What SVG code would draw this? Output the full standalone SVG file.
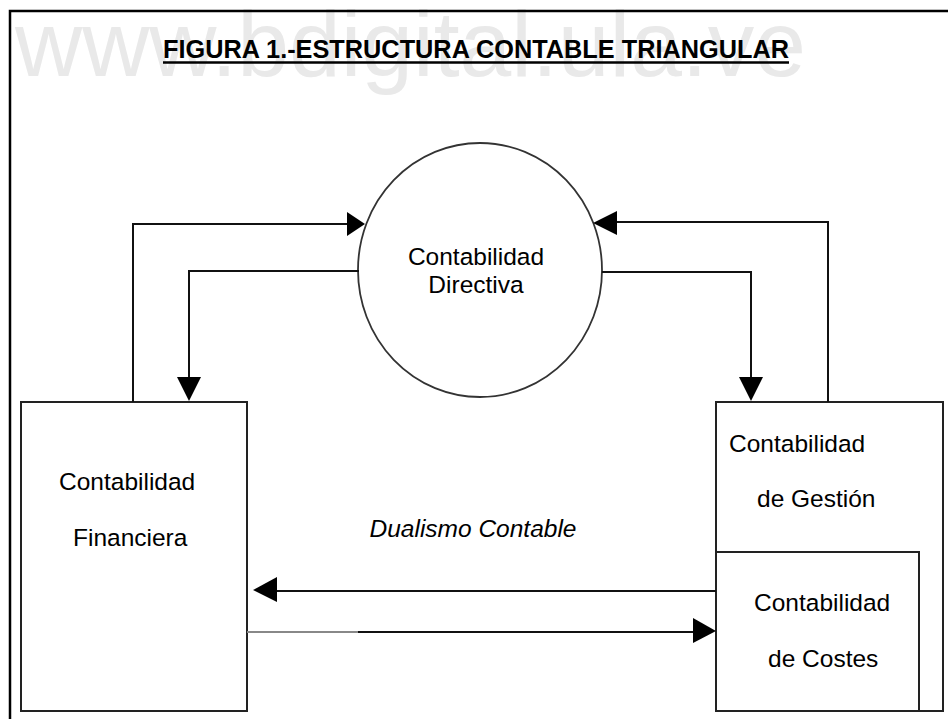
<svg xmlns="http://www.w3.org/2000/svg" width="948" height="719" viewBox="0 0 948 719">
<style>
.t{font-family:"Liberation Sans",Arial,sans-serif;font-size:24.5px;fill:#000}
.box{fill:none;stroke:#222;stroke-width:2}
.ln{fill:none;stroke:#111;stroke-width:2}
.ah{fill:#000}
</style>
<rect width="948" height="719" fill="#fff"/>
<text x="15" y="76" font-family="'Liberation Sans',Arial,sans-serif" font-size="93" fill="#e9e9e9">www.bdigital.ula.ve</text>
<g id="frame"><path d="M10,719 V11 H948" fill="none" stroke="#000" stroke-width="2.5"/></g>
<g id="title">
<text x="163" y="58" font-family="'Liberation Sans',Arial,sans-serif" font-size="25" font-weight="bold" textLength="626" lengthAdjust="spacingAndGlyphs">FIGURA 1.-ESTRUCTURA CONTABLE TRIANGULAR</text>
<line x1="163" y1="62.5" x2="789" y2="62.5" stroke="#000" stroke-width="2.5"/>
</g>
<g id="directiva">
<ellipse cx="480" cy="270" rx="122" ry="127" fill="#fff" stroke="#333" stroke-width="1.8"/>
<text class="t" x="476" y="265" text-anchor="middle">Contabilidad</text>
<text class="t" x="476" y="293" text-anchor="middle">Directiva</text>
</g>
<g id="financiera">
<rect class="box" x="21" y="402" width="226" height="309"/>
<text class="t" x="59" y="490">Contabilidad</text>
<text class="t" x="73" y="546">Financiera</text>
</g>
<g id="gestion">
<rect class="box" x="716" y="402" width="227" height="309"/>
<text class="t" x="729" y="452">Contabilidad</text>
<text class="t" x="757" y="507">de Gestión</text>
</g>
<g id="costes">
<rect class="box" x="716" y="552" width="203" height="159"/>
<text class="t" x="754" y="611">Contabilidad</text>
<text class="t" x="768" y="667">de Costes</text>
</g>
<g id="connectors">
<path class="ln" d="M133,402 V224 H348"/>
<polygon class="ah" points="365,224 347,212 347,236"/>
<path class="ln" d="M359,271 H189 V378"/>
<polygon class="ah" points="189,401 177,377 201,377"/>
<path class="ln" d="M828,402 V222 H616"/>
<polygon class="ah" points="593,223 617,211 617,235"/>
<path class="ln" d="M602,272 H751 V378"/>
<polygon class="ah" points="751,401 739,377 763,377"/>
<path class="ln" d="M716,591 H276"/>
<polygon class="ah" points="253,590 277,577 277,602"/>
<line x1="247" y1="632" x2="358" y2="632" stroke="#888" stroke-width="2"/>
<line x1="358" y1="632" x2="694" y2="632" stroke="#111" stroke-width="2"/>
<polygon class="ah" points="716,631 693,618 693,643"/>
</g>
<g id="label"><text class="t" x="473" y="537" text-anchor="middle" font-style="italic">Dualismo Contable</text></g>
</svg>
